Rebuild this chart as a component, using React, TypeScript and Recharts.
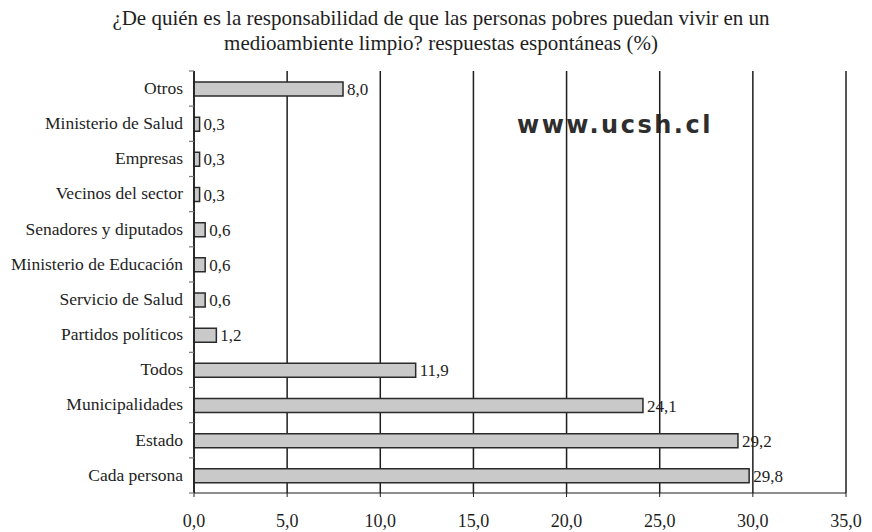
import React from 'react';
import { BarChart, Bar, XAxis, YAxis, CartesianGrid, LabelList } from 'recharts';

const categories = [
  'Otros',
  'Ministerio de Salud',
  'Empresas',
  'Vecinos del sector',
  'Senadores y diputados',
  'Ministerio de Educación',
  'Servicio de Salud',
  'Partidos políticos',
  'Todos',
  'Municipalidades',
  'Estado',
  'Cada persona',
];
const values = [8.0, 0.3, 0.3, 0.3, 0.6, 0.6, 0.6, 1.2, 11.9, 24.1, 29.2, 29.8];
const xTicks = [0, 5, 10, 15, 20, 25, 30, 35];
const titleLines = [
  '¿De quién es la responsabilidad de que las personas pobres puedan vivir en un',
  'medioambiente limpio? respuestas espontáneas (%)',
];
const watermark = 'www.ucsh.cl';

const data = categories.map((name, i) => ({ name, value: values[i] }));

const W = 872;
const H = 532;
const M_TOP = 71;
const M_RIGHT = 26;
const X_AXIS_H = 39;
const Y_AXIS_W = 194;
const BAND = (H - M_TOP - X_AXIS_H) / categories.length;
const SERIF = "'Liberation Serif', serif";
const TEXT = '#1e1e1e';

const fmt = (v: number) => v.toFixed(1).replace('.', ',');

const CatTick = (props: any) => {
  const { x, y, payload, index } = props;
  const px = Y_AXIS_W;
  return (
    <g>
      <text
        x={x}
        y={y}
        dy="0.3em"
        textAnchor="end"
        style={{ fontFamily: SERIF, fontSize: 17.5, fill: TEXT }}
      >
        {payload.value}
      </text>
      <line x1={px - 5} x2={px} y1={y - BAND / 2} y2={y - BAND / 2} stroke="#777" strokeWidth={1.2} />
      {index === categories.length - 1 && (
        <line x1={px - 5} x2={px} y1={y + BAND / 2} y2={y + BAND / 2} stroke="#777" strokeWidth={1.2} />
      )}
    </g>
  );
};

const titleStyle: React.CSSProperties = {
  position: 'absolute',
  left: 0,
  width: 882,
  textAlign: 'center',
  fontFamily: SERIF,
  fontSize: 21,
  lineHeight: '25px',
  color: TEXT,
  whiteSpace: 'nowrap',
};

export default function App() {
  return (
    <div style={{ position: 'absolute', left: 0, top: 0, width: W, height: H, background: '#fff' }}>
      <div style={{ ...titleStyle, top: 6 }}>{titleLines[0]}</div>
      <div style={{ ...titleStyle, top: 31 }}>{titleLines[1]}</div>
      <svg width={W} height={H} style={{ position: 'absolute', left: 0, top: 0 }}>
        <text
          x={517}
          y={133}
          style={{
            fontFamily: "'DejaVu Sans', sans-serif",
            fontWeight: 'bold',
            fontSize: 24,
            letterSpacing: 2.5,
            fill: '#2e2e2e',
          }}
        >
          {watermark}
        </text>
      </svg>
      <div style={{ position: 'absolute', left: 0, top: 0 }}>
        <BarChart
          width={W}
          height={H}
          data={data}
          layout="vertical"
          margin={{ top: M_TOP, right: M_RIGHT, bottom: 0, left: 0 }}
        >
          <CartesianGrid horizontal={false} stroke="#1e1e1e" strokeWidth={1.5} />
          <XAxis
            type="number"
            domain={[0, 35]}
            ticks={xTicks}
            interval={0}
            height={X_AXIS_H}
            tickFormatter={fmt}
            tickSize={4}
            tickMargin={17}
            axisLine={{ stroke: '#1e1e1e', strokeWidth: 1.2 }}
            tickLine={{ stroke: '#1e1e1e' }}
            tick={{ fontFamily: SERIF, fontSize: 18, fill: TEXT }}
          />
          <XAxis
            xAxisId="top"
            orientation="top"
            type="number"
            domain={[0, 35]}
            height={0}
            tick={false}
            tickLine={false}
            axisLine={{ stroke: '#777', strokeWidth: 1.2 }}
          />
          <YAxis
            type="category"
            dataKey="name"
            width={Y_AXIS_W}
            interval={0}
            tickSize={0}
            tickMargin={11}
            tickLine={false}
            axisLine={{ stroke: '#1e1e1e', strokeWidth: 1.5 }}
            tick={<CatTick />}
          />
          <Bar
            dataKey="value"
            fill="#c9c9c9"
            stroke="#2a2a2a"
            strokeWidth={1.5}
            barSize={14}
            isAnimationActive={false}
          >
            <LabelList
              dataKey="value"
              position="right"
              offset={4}
              formatter={(v: any) => fmt(Number(v))}
              style={{ fontFamily: SERIF, fontSize: 17, fill: TEXT }}
            />
          </Bar>
        </BarChart>
      </div>
    </div>
  );
}
